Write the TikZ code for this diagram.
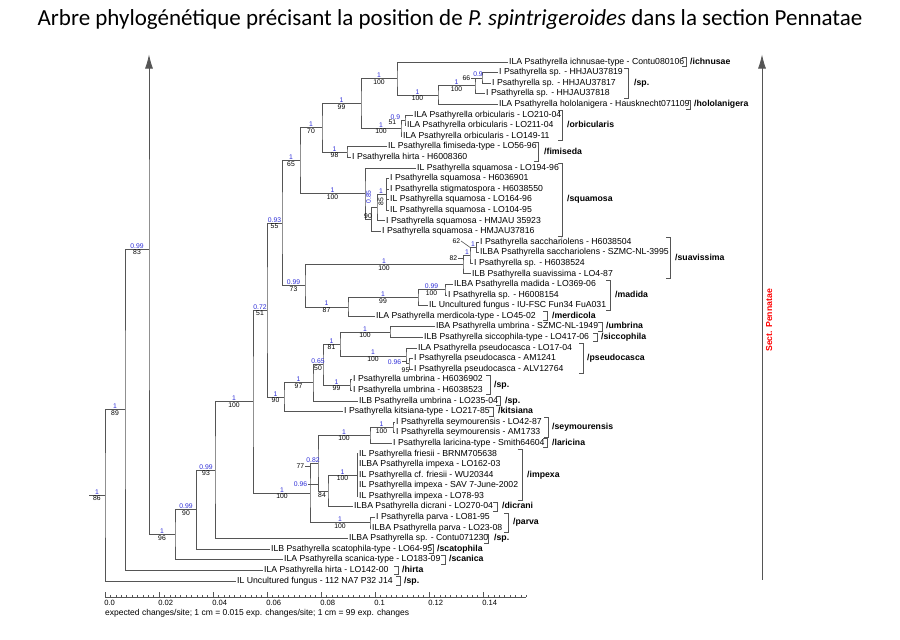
\documentclass[tikz,border=0pt]{standalone}
\usepackage{fontspec}
\setmainfont{Liberation Sans}
\newfontfamily\titlefont{Carlito}
\usetikzlibrary{arrows.meta}

\definecolor{brgray}{RGB}{85,85,85}
\definecolor{ppblue}{RGB}{45,45,215}

\tikzset{
  br/.style={draw=brgray, line width=0.75pt},
  brk/.style={draw=brgray, line width=0.6pt},
  taxon/.style={anchor=west, inner sep=1pt, text height=6.2pt, text depth=1.8pt, font=\fontsize{8.7}{9}\selectfont},
  grp/.style={anchor=west, inner sep=1pt, text height=6.2pt, text depth=1.8pt, font=\fontsize{8.7}{9}\selectfont\bfseries},
  pp/.style={anchor=south, inner sep=0.7pt, text=ppblue, font=\fontsize{6.8}{7}\selectfont},
  bs/.style={anchor=north, inner sep=0.7pt, font=\fontsize{6.8}{7}\selectfont},
  scl/.style={draw=brgray, line width=0.5pt},
}

\begin{document}
\begin{tikzpicture}[>={Latex[length=14pt,width=8pt]}, x=1pt, y=-1pt]
\useasboundingbox (0,0) rectangle (900,640);

\node[font=\titlefont\fontsize{23}{26}\selectfont] (title) at (450,19)
  {Arbre phylogénétique précisant la position de \textit{P. spintrigeroides} dans la section Pennatae};

\begin{scope}[y=-10.59pt, yshift=-51.41pt]

% taxons
\node[taxon] (t1) at (508,1) {ILA Psathyrella ichnusae-type - Contu080106};
\node[taxon] (t2) at (498,2) {I Psathyrella sp. - HHJAU37819};
\node[taxon] (t3) at (491,3) {I Psathyrella sp. - HHJAU37817};
\node[taxon] (t4) at (485,4) {I Psathyrella sp. - HHJAU37818};
\node[taxon] (t5) at (498,5) {ILA Psathyrella hololanigera - Hausknecht071109};
\node[taxon] (t6) at (413,6) {ILA Psathyrella orbicularis - LO210-04};
\node[taxon] (t7) at (406,7) {ILA Psathyrella orbicularis - LO211-04};
\node[taxon] (t8) at (402,8) {ILA Psathyrella orbicularis - LO149-11};
\node[taxon] (t9) at (387,9) {IL Psathyrella fimiseda-type - LO56-96};
\node[taxon] (t10) at (351,10) {I Psathyrella hirta - H6008360};
\node[taxon] (t11) at (416,11) {IL Psathyrella squamosa - LO194-96};
\node[taxon] (t12) at (389,12) {I Psathyrella squamosa - H6036901};
\node[taxon] (t13) at (389,13) {I Psathyrella stigmatospora - H6038550};
\node[taxon] (t14) at (389,14) {IL Psathyrella squamosa - LO164-96};
\node[taxon] (t15) at (389,15) {IL Psathyrella squamosa - LO104-95};
\node[taxon] (t16) at (385,16) {I Psathyrella squamosa - HMJAU 35923};
\node[taxon] (t17) at (381,17) {I Psathyrella squamosa - HMJAU37816};
\node[taxon] (t18) at (479,18) {I Psathyrella sacchariolens - H6038504};
\node[taxon] (t19) at (479,19) {ILBA Psathyrella sacchariolens - SZMC-NL-3995};
\node[taxon] (t20) at (473,20) {I Psathyrella sp. - H6038524};
\node[taxon] (t21) at (471,21) {ILB Psathyrella suavissima - LO4-87};
\node[taxon] (t22) at (453,22) {ILBA Psathyrella madida - LO369-06};
\node[taxon] (t23) at (447,23) {I Psathyrella sp. - H6008154};
\node[taxon] (t24) at (428,24) {IL Uncultured fungus - IU-FSC Fun34 FuA031};
\node[taxon] (t25) at (375,25) {ILA Psathyrella merdicola-type - LO45-02};
\node[taxon] (t26) at (435,26) {IBA Psathyrella umbrina - SZMC-NL-1949};
\node[taxon] (t27) at (423,27) {ILB Psathyrella siccophila-type - LO417-06};
\node[taxon] (t28) at (417,28) {ILA Psathyrella pseudocasca - LO17-04};
\node[taxon] (t29) at (413,29) {I Psathyrella pseudocasca - AM1241};
\node[taxon] (t30) at (413,30) {I Psathyrella pseudocasca - ALV12764};
\node[taxon] (t31) at (352,31) {I Psathyrella umbrina - H6036902};
\node[taxon] (t32) at (352,32) {I Psathyrella umbrina - H6038523};
\node[taxon] (t33) at (358,33) {ILB Psathyrella umbrina - LO235-04};
\node[taxon] (t34) at (343,34) {I Psathyrella kitsiana-type - LO217-85};
\node[taxon] (t35) at (395,35) {I Psathyrella seymourensis - LO42-87};
\node[taxon] (t36) at (395,36) {I Psathyrella seymourensis - AM1733};
\node[taxon] (t37) at (392,37) {I Psathyrella laricina-type - Smith64604};
\node[taxon] (t38) at (358,38) {IL Psathyrella friesii - BRNM705638};
\node[taxon] (t39) at (358,39) {ILBA Psathyrella impexa - LO162-03};
\node[taxon] (t40) at (358,40) {IL Psathyrella cf. friesii - WU20344};
\node[taxon] (t41) at (358,41) {IL Psathyrella impexa - SAV 7-June-2002};
\node[taxon] (t42) at (358,42) {IL Psathyrella impexa - LO78-93};
\node[taxon] (t43) at (353,43) {ILBA Psathyrella dicrani - LO270-04};
\node[taxon] (t44) at (375,44) {I Psathyrella parva - LO81-95};
\node[taxon] (t45) at (371,45) {ILBA Psathyrella parva - LO23-08};
\node[taxon] (t46) at (348,46) {ILBA Psathyrella sp. - Contu071230};
\node[taxon] (t47) at (270,47) {ILB Psathyrella scatophila-type - LO64-95};
\node[taxon] (t48) at (283,48) {ILA Psathyrella scanica-type - LO183-09};
\node[taxon] (t49) at (263,49) {ILA Psathyrella hirta - LO142-00};
\node[taxon] (t50) at (236,50) {IL Uncultured fungus - 112 NA7 P32 J14};

% noeuds internes
\coordinate (n4) at (482,2.5);
\coordinate (n3) at (475,3.25);
\coordinate (n2) at (438,4.125);
\coordinate (n1) at (397,2.5625);
\coordinate (o2) at (405,6.5);
\coordinate (o1) at (401,7.25);
\coordinate (a) at (361,4.906);
\coordinate (f) at (347,9.5);
\coordinate (b) at (322,7.203);
\coordinate (s3) at (386.5,13.5);
\coordinate (s2) at (377,14.75);
\coordinate (s1) at (371.7,15.875);
\coordinate (s0) at (365,13.4375);
\coordinate (c) at (300,10.32);
\coordinate (sv3) at (476.7,18.5);
\coordinate (sv2) at (470,19.25);
\coordinate (sv1) at (463,20.125);
\coordinate (md2) at (445,22.5);
\coordinate (md1) at (418,23.25);
\coordinate (md0) at (348,24.125);
\coordinate (sm) at (305,22.125);
\coordinate (d) at (282,16.2225);
\coordinate (um) at (390,26.5);
\coordinate (pc2) at (409,29.5);
\coordinate (pc1) at (406,28.75);
\coordinate (up) at (340,27.625);
\coordinate (u2) at (350,31.5);
\coordinate (uq) at (323,29.5625);
\coordinate (q) at (313,31.28);
\coordinate (p) at (284,32.64);
\coordinate (o) at (267,24.43);
\coordinate (sy2) at (393,35.5);
\coordinate (sy1) at (370,36.25);
\coordinate (im) at (357,40);
\coordinate (imd) at (328,41.5);
\coordinate (x1) at (318,38.875);
\coordinate (pv) at (370,44.5);
\coordinate (sip) at (310,41.6875);
\coordinate (m) at (253,33.06);
\coordinate (nl) at (215,39.53);
\coordinate (nk) at (196.7,43.265);
\coordinate (nj) at (175,45.63);
\coordinate (nr2) at (149,18.66);
\coordinate (nr1) at (125,33.83);
\coordinate (nroot) at (105,41.915);
\coordinate (rstub) at (89,41.915);
\coordinate (ptop) at (149,0.3);

% branches
\draw[br] (t2.west) -| (n4) |- (t3.west);
\draw[br] (n4) -| (n3) |- (t4.west);
\draw[br] (n3) -| (n2) |- (t5.west);
\draw[br] (t1.west) -| (n1) |- (n2);
\draw[br] (t6.west) -| (o2) |- (t7.west);
\draw[br] (o2) -| (o1) |- (t8.west);
\draw[br] (n1) -| (a) |- (o1);
\draw[br] (t9.west) -| (f) |- (t10.west);
\draw[br] (a) -| (b) |- (f);
\draw[br] (t12.west) -| (s3) |- (t15.west);
\draw[br] (s3) |- (t13.west) (s3) |- (t14.west);
\draw[br] (s3) -| (s2) |- (t16.west);
\draw[br] (s2) -| (s1) |- (t17.west);
\draw[br] (t11.west) -| (s0) |- (s1);
\draw[br] (b) -| (c) |- (s0);
\draw[br] (t18.west) -| (sv3) |- (t19.west);
\draw[br] (sv3) -| (sv2) |- (t20.west);
\draw[br] (sv2) -| (sv1) |- (t21.west);
\draw[br] (t22.west) -| (md2) |- (t23.west);
\draw[br] (md2) -| (md1) |- (t24.west);
\draw[br] (md1) -| (md0) |- (t25.west);
\draw[br] (sv1) -| (sm) |- (md0);
\draw[br] (c) -| (d) |- (sm);
\draw[br] (t26.west) -| (um) |- (t27.west);
\draw[br] (t29.west) -| (pc2) |- (t30.west);
\draw[br] (t28.west) -| (pc1) |- (pc2);
\draw[br] (um) -| (up) |- (pc1);
\draw[br] (t31.west) -| (u2) |- (t32.west);
\draw[br] (up) -| (uq) |- (u2);
\draw[br] (uq) -| (q) |- (t33.west);
\draw[br] (q) -| (p) |- (t34.west);
\draw[br] (d) -| (o) |- (p);
\draw[br] (t35.west) -| (sy2) |- (t36.west);
\draw[br] (sy2) -| (sy1) |- (t37.west);
\draw[br] (t38.west) -| (im) |- (t42.west);
\draw[br] (im) |- (t39.west) (im) |- (t40.west) (im) |- (t41.west);
\draw[br] (im) -| (imd) |- (t43.west);
\draw[br] (sy1) -| (x1) |- (imd);
\draw[br] (t44.west) -| (pv) |- (t45.west);
\draw[br] (x1) -| (sip) |- (pv);
\draw[br] (o) -| (m) |- (sip);
\draw[br] (m) -| (nl) |- (t46.west);
\draw[br] (nl) -| (nk) |- (t47.west);
\draw[br] (nk) -| (nj) |- (t48.west);
\draw[br,->] (nj) -| (nr2) -- (ptop);
\draw[br] (nr2) -| (nr1) |- (t49.west);
\draw[br] (nr1) -| (nroot) |- (t50.west);
\draw[br] (nroot) -- (rstub);

% supports : probabilites (bleu) / bootstrap (noir)
\node[pp] (p-root) at (97,41.915) {1};    \node[bs] (b-root) at (97,41.915) {86};
\node[pp] (p-nr1) at (115,33.83) {1};     \node[bs] (b-nr1) at (115,33.83) {89};
\node[pp] (p-nr2) at (137,18.66) {0.99};  \node[bs] (b-nr2) at (137,18.66) {83};
\node[pp] (p-nj) at (162,45.63) {1};      \node[bs] (b-nj) at (162,45.63) {96};
\node[pp] (p-nk) at (186,43.265) {0.99};  \node[bs] (b-nk) at (186,43.265) {90};
\node[pp] (p-nl) at (206,39.53) {0.99};   \node[bs] (b-nl) at (206,39.53) {93};
\node[pp] (p-m) at (234,33.06) {1};       \node[bs] (b-m) at (234,33.06) {100};
\node[pp] (p-o) at (260,24.43) {0.72};    \node[bs] (b-o) at (260,24.43) {51};
\node[pp] (p-sip) at (282,41.69) {1};     \node[bs] (b-sip) at (282,41.69) {100};
\node[pp] (p-d) at (274.5,16.22) {0.93};  \node[bs] (b-d) at (274.5,16.22) {55};
\node[pp] (p-p) at (275.5,32.64) {1};     \node[bs] (b-p) at (275.5,32.64) {90};
\node[pp] (p-c) at (291,10.32) {1};       \node[bs] (b-c) at (291,10.32) {65};
\node[pp] (p-sm) at (293.5,22.125) {0.99};\node[bs] (b-sm) at (293.5,22.125) {73};
\node[pp] (p-b) at (311,7.203) {1};       \node[bs] (b-b) at (311,7.203) {70};
\node[pp] (p-s0) at (332.5,13.44) {1};    \node[bs] (b-s0) at (332.5,13.44) {100};
\node[pp] (p-a) at (341.5,4.906) {1};     \node[bs] (b-a) at (341.5,4.906) {99};
\node[pp] (p-f) at (334.5,9.5) {1};       \node[bs] (b-f) at (334.5,9.5) {98};
\node[pp] (p-n1) at (379,2.5625) {1};     \node[bs] (b-n1) at (379,2.5625) {100};
\node[pp] (p-o1) at (381,7.25) {1};       \node[bs] (b-o1) at (381,7.25) {100};
\node[pp] (p-n2) at (417.5,4.125) {1};    \node[bs] (b-n2) at (417.5,4.125) {100};
\node[pp] (p-n3) at (456.5,3.25) {1};     \node[bs] (b-n3) at (456.5,3.25) {100};
\node[pp] (p-n4) at (478,2.5) {0.9};
\node[bs, anchor=east] (b-n4) at (471,2.55) {66};
\node[pp, anchor=south east] (p-o2) at (401,6.5) {0.9};
\node[bs, anchor=north east] (b-o2) at (397,6.4) {51};
\node[pp] (p-sv1) at (384,20.125) {1};    \node[bs] (b-sv1) at (384,20.125) {100};
\node[pp] (p-md0) at (326.5,24.125) {1};  \node[bs] (b-md0) at (326.5,24.125) {87};
\node[pp] (p-sv2) at (467,19.25) {1};
\node[bs, anchor=east] (b-sv2) at (458,19.5) {82};
\node[pp] (p-sv3) at (473,18.5) {1};
\node[bs, anchor=east] (b-sv3) at (461,17.9) {62};
\node[pp] (p-md1) at (383,23.25) {1};     \node[bs] (b-md1) at (383,23.25) {99};
\node[pp] (p-md2) at (431.5,22.5) {0.99}; \node[bs] (b-md2) at (431.5,22.5) {100};
\node[pp] (p-q) at (298.5,31.28) {1};     \node[bs] (b-q) at (298.5,31.28) {97};
\node[pp] (p-uq) at (318,29.56) {0.65};   \node[bs] (b-uq) at (318,29.56) {50};
\node[pp] (p-up) at (331.5,27.625) {1};   \node[bs] (b-up) at (331.5,27.625) {81};
\node[pp] (p-u2) at (336.5,31.5) {1};     \node[bs] (b-u2) at (336.5,31.5) {99};
\node[pp] (p-um) at (365,26.5) {1};       \node[bs] (b-um) at (365,26.5) {100};
\node[pp] (p-pc1) at (373,28.75) {1};     \node[bs] (b-pc1) at (373,28.75) {100};
\node[pp, anchor=east] (p-pc2) at (402,29.3) {0.96};
\node[bs] (b-pc2) at (405.5,29.8) {95};
\node[pp] (p-sy2) at (381.5,35.5) {1};    \node[bs] (b-sy2) at (381.5,35.5) {100};
\node[pp] (p-sy1) at (344,36.25) {1};     \node[bs] (b-sy1) at (344,36.25) {100};
\node[pp] (p-pv) at (340,44.5) {1};       \node[bs] (b-pv) at (340,44.5) {100};
\node[pp] (p-im) at (342.5,40) {1};       \node[bs] (b-im) at (342.5,40) {100};
\node[pp] (p-x1) at (313,38.875) {0.82};
\node[bs, anchor=east] (b-x1) at (305,39.15) {77};
\node[pp, anchor=east] (p-imd) at (308,40.9) {0.96};
\node[bs] (b-imd) at (322,41.55) {84};
% squamosa
\node[pp] (p-s3) at (381,13.5) {1};
\node[bs, rotate=90, anchor=center] (b-s3) at (381,14.15) {85};
\node[pp, rotate=90, anchor=center] (p-s2) at (368.5,13.75) {0.85};
\node[bs, anchor=center] (b-s2) at (368,15.55) {90};

% petits traits de rappel
\draw[brk] (b-n4.east) -- (475,2.55);
\draw[brk] (b-sv2.east) -- (463,19.5);
\draw[brk] (b-sv3.east) -- (470,18.5);
\draw[brk] (b-x1.east) -- (310,39.15);
\draw[brk] (p-imd.east) -- (318,40.9);
\draw[brk] (p-pc2.east) -- (406,29.3);

% crochets et noms de clades
\draw[brk] (682,0.58) -- (686,0.58) -- (686,1.42) -- (682,1.42);
\node[grp] (g1) at (689,1) {/ichnusae};
\draw[brk] (624,1.58) -- (628,1.58) -- (628,4.42) -- (624,4.42);
\node[grp] (g2) at (633,3) {/sp.};
\draw[brk] (686,4.58) -- (690,4.58) -- (690,5.42) -- (686,5.42);
\node[grp] (g3) at (693,5) {/hololanigera};
\draw[brk] (558,5.58) -- (562,5.58) -- (562,8.42) -- (558,8.42);
\node[grp] (g4) at (566,7) {/orbicularis};
\draw[brk] (534,8.58) -- (538,8.58) -- (538,10.42) -- (534,10.42);
\node[grp] (g5) at (543,9.5) {/fimiseda};
\draw[brk] (558,10.58) -- (562,10.58) -- (562,17.42) -- (558,17.42);
\node[grp] (g6) at (566,14) {/squamosa};
\draw[brk] (666,17.58) -- (670,17.58) -- (670,21.42) -- (666,21.42);
\node[grp] (g7) at (674,19.5) {/suavissima};
\draw[brk] (606,21.58) -- (610,21.58) -- (610,24.42) -- (606,24.42);
\node[grp] (g8) at (614,23) {/madida};
\draw[brk] (543,24.58) -- (547,24.58) -- (547,25.42) -- (543,25.42);
\node[grp] (g9) at (551,25) {/merdicola};
\draw[brk] (598,25.58) -- (602,25.58) -- (602,26.42) -- (598,26.42);
\node[grp] (g10) at (605,26) {/umbrina};
\draw[brk] (593,26.58) -- (597,26.58) -- (597,27.42) -- (593,27.42);
\node[grp] (g11) at (600,27) {/siccophila};
\draw[brk] (579,27.58) -- (583,27.58) -- (583,30.42) -- (579,30.42);
\node[grp] (g12) at (586,29) {/pseudocasca};
\draw[brk] (486,30.58) -- (490,30.58) -- (490,32.42) -- (486,32.42);
\node[grp] (g13) at (493,31.5) {/sp.};
\draw[brk] (496,32.58) -- (500,32.58) -- (500,33.42) -- (496,33.42);
\node[grp] (g14) at (504,33) {/sp.};
\draw[brk] (489,33.58) -- (493,33.58) -- (493,34.42) -- (489,34.42);
\node[grp] (g15) at (497,34) {/kitsiana};
\draw[brk] (544,34.58) -- (548,34.58) -- (548,36.42) -- (544,36.42);
\node[grp] (g16) at (551,35.5) {/seymourensis};
\draw[brk] (543,36.58) -- (547,36.58) -- (547,37.42) -- (543,37.42);
\node[grp] (g17) at (551,37) {/laricina};
\draw[brk] (518,37.58) -- (522,37.58) -- (522,42.42) -- (518,42.42);
\node[grp] (g18) at (526,40) {/impexa};
\draw[brk] (493,42.58) -- (497,42.58) -- (497,43.42) -- (493,43.42);
\node[grp] (g19) at (501,43) {/dicrani};
\draw[brk] (504,43.58) -- (508,43.58) -- (508,45.42) -- (504,45.42);
\node[grp] (g20) at (512,44.5) {/parva};
\draw[brk] (484,45.58) -- (488,45.58) -- (488,46.42) -- (484,46.42);
\node[grp] (g21) at (493,46) {/sp.};
\draw[brk] (429,46.58) -- (433,46.58) -- (433,47.42) -- (429,47.42);
\node[grp] (g22) at (436,47) {/scatophila};
\draw[brk] (441,47.58) -- (445,47.58) -- (445,48.42) -- (441,48.42);
\node[grp] (g23) at (448,48) {/scanica};
\draw[brk] (394,48.58) -- (398,48.58) -- (398,49.42) -- (394,49.42);
\node[grp] (g24) at (401,49) {/hirta};
\draw[brk] (396,49.58) -- (400,49.58) -- (400,50.42) -- (396,50.42);
\node[grp] (g25) at (403,50) {/sp.};

% section Pennatae
\coordinate (sbot) at (762,49.9);
\coordinate (stop) at (762,0.3);
\draw[br,->] (sbot) -- (stop);
\node[font=\fontsize{8.7}{9}\selectfont\bfseries, text=red, rotate=90] (sect) at (769,25.4) {Sect. Pennatae};
\end{scope}

% echelle
\draw[scl] (105,597) -- (526,597);
\foreach \k in {0,...,78}
  \draw[scl] (105+5.4*\k,597) -- ++(0,-2.5);
\foreach \k/\lab in {0/0.0,1/0.02,2/0.04,3/0.06,4/0.08,5/0.1,6/0.12,7/0.14}
  \draw[scl] (105+54*\k,597) -- ++(0,-5.5)
    node[anchor=north west, inner sep=0pt, font=\fontsize{7.6}{8}\selectfont] (sc\k) at (104+54*\k,599.5) {\lab};
\node[anchor=west, inner sep=0pt, font=\fontsize{8.5}{9}\selectfont] (scaletxt) at (105,613.5)
  {expected changes/site; 1 cm = 0.015 exp. changes/site; 1 cm = 99 exp. changes};

\end{tikzpicture}
\end{document}
